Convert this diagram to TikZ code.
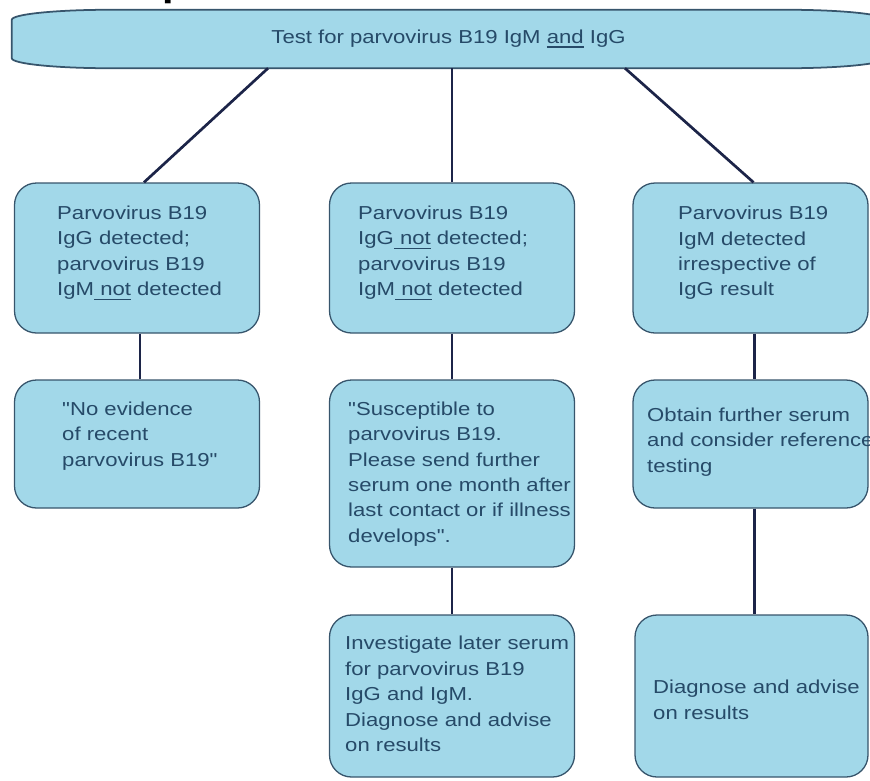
\documentclass[tikz,border=0pt]{standalone}
\usepackage{fontspec}
\setmainfont[FakeStretch=1.18, Ligatures=TeXOff]{Liberation Sans}
\usetikzlibrary{backgrounds}
\newlength\pxu \setlength\pxu{0.03cm}
\newsavebox\undlbox
\definecolor{boxfill}{RGB}{162,216,233}
\definecolor{boxline}{RGB}{55,85,108}
\definecolor{txtc}{RGB}{38,74,104}
\definecolor{linkc}{RGB}{28,36,72}
\newcommand{\undl}[1]{\sbox\undlbox{#1}\rlap{\rule[-3.6pt]{\wd\undlbox}{1.2pt}}\usebox\undlbox}
\begin{document}
\begin{tikzpicture}[x=0.03cm,y=-0.03cm,
  box/.style={draw=boxline, fill=boxfill, line width=1.1pt, rounded corners=0.66cm, inner sep=0},
  txt/.style={text=txtc, align=left, inner sep=0, anchor=west, font=\fontsize{16}{21.7}\selectfont},
  link/.style={draw=linkc, line width=2.3pt},
  topshape/.style={draw=boxline, fill=boxfill, line width=1.5pt}]
\useasboundingbox (0,0) rectangle (870,780);

% cropped heading fragment
\node[font=\bfseries\fontsize{30}{30}\selectfont, text=black, anchor=base, inner sep=0] (frag) at (175,-4) {p};

% top box
\node[txt, anchor=center, minimum width=873\pxu, minimum height=58\pxu] (top) at (448.5,39) {Test for parvovirus B19 IgM \undl{and} IgG};
\begin{scope}[on background layer]
\path[topshape] ([yshift=-10\pxu]top.north west)
  arc[start angle=180, end angle=90, x radius=98\pxu, y radius=10\pxu]
  -- ([xshift=-98\pxu]top.north east)
  arc[start angle=90, end angle=0, x radius=98\pxu, y radius=10\pxu]
  -- ([yshift=10\pxu]top.south east)
  arc[start angle=0, end angle=-90, x radius=98\pxu, y radius=10\pxu]
  -- ([xshift=98\pxu]top.south west)
  arc[start angle=270, end angle=180, x radius=98\pxu, y radius=10\pxu]
  -- cycle;
\end{scope}

% row 2
\node[box, minimum width=245\pxu, minimum height=150\pxu] (b21) at (137,258) {};
\node[box, minimum width=245\pxu, minimum height=150\pxu] (b22) at (452,258) {};
\node[box, minimum width=235\pxu, minimum height=150\pxu] (b23) at (750.5,258) {};
\node[txt] (t21) at (57,253) {Parvovirus B19\\IgG detected;\\parvovirus B19\\IgM\undl{\ not}\ detected};
\node[txt] (t22) at (358,253) {Parvovirus B19\\IgG\undl{\ not}\ detected;\\parvovirus B19\\IgM\undl{\ not}\ detected};
\node[txt] (t23) at (678,253) {Parvovirus B19\\IgM detected\\irrespective of\\IgG result};

% row 3
\node[box, minimum width=245\pxu, minimum height=128\pxu] (b31) at (137,444) {};
\node[box, minimum width=245\pxu, minimum height=187\pxu] (b32) at (452,473.5) {};
\node[box, minimum width=235\pxu, minimum height=128\pxu] (b33) at (750.5,444) {};
\node[txt] (t31) at (62,436) {"No evidence\\of recent\\parvovirus B19"};
\node[txt] (t32) at (348,474) {"Susceptible to\\parvovirus B19.\\Please send further\\serum one month after\\last contact or if illness\\develops".};
\node[txt] (t33) at (647,442) {Obtain further serum\\and consider reference\\testing};

% row 4
\node[box, minimum width=245\pxu, minimum height=162\pxu] (b42) at (452,696) {};
\node[box, minimum width=233\pxu, minimum height=162\pxu] (b43) at (751.5,696) {};
\node[txt] (t42) at (345,694) {Investigate later serum\\for parvovirus B19\\IgG and IgM.\\Diagnose and advise\\on results};
\node[txt] (t43) at (653,700) {Diagnose and advise\\on results};

% connectors
\draw[link] ([xshift=-180.5\pxu]top.south) -- ([xshift=7\pxu]b21.north);
\draw[link] (top.south -| b22.north) -- (b22.north);
\draw[link] ([xshift=176.5\pxu]top.south) -- ([xshift=3\pxu]b23.north);
\draw[link] ([xshift=3\pxu]b21.south) -- ([xshift=3\pxu]b31.north);
\draw[link] (b22.south) -- (b32.north);
\draw[link] (b32.south) -- (b42.north);
\draw[link] ([xshift=4\pxu]b23.south) -- ([xshift=4\pxu]b33.north);
\draw[link] ([xshift=4\pxu]b33.south) -- ([xshift=3\pxu]b43.north);
\end{tikzpicture}
\end{document}
